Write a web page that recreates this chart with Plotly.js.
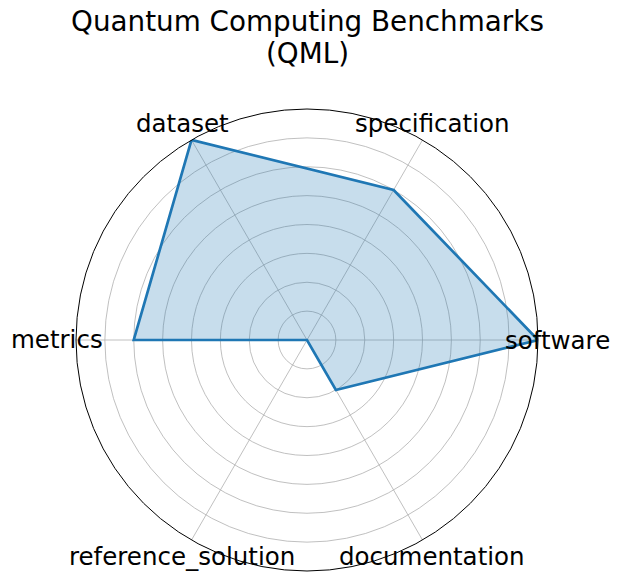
<!DOCTYPE html>
<html><head><meta charset="utf-8">
<script src="https://cdn.plot.ly/plotly-3.0.1.min.js"></script>
<style>html,body{margin:0;padding:0;background:#fff}</style>
</head><body>
<div id="chart" style="width:621px;height:581px"></div>
<script>
const categories = ["software","specification","dataset","metrics","reference_solution","documentation"];
const values = [8, 6, 8, 6, 0, 2];
const rMax = 8;
const titleLines = ["Quantum Computing Benchmarks", "(QML)"];

const W = 621, H = 581;
const cx = 307, cy = 340, R = 231;
const labelR = 250;

const theta = categories.concat([categories[0]]);
const r = values.concat([values[0]]);

const annotations = categories.map((c, i) => {
  const a = i * Math.PI * 2 / categories.length;
  const px = cx + labelR * Math.cos(a);
  const py = cy - labelR * Math.sin(a);
  return {
    text: c, xref: 'paper', yref: 'paper',
    x: px / W, y: 1 - py / H, xanchor: 'center', yanchor: 'middle',
    showarrow: false, font: {family: 'DejaVu Sans', size: 24.5, color: '#000'}
  };
});
const titleY = [22, 53];
titleLines.forEach((t, i) => {
  annotations.push({
    text: t, xref: 'paper', yref: 'paper',
    x: cx / W, y: 1 - titleY[i] / H, xanchor: 'center', yanchor: 'middle',
    showarrow: false, font: {family: 'DejaVu Sans', size: 27.8, color: '#000'}
  });
});

const trace = {
  type: 'scatterpolar', mode: 'lines', r: r, theta: theta,
  fill: 'toself', fillcolor: 'rgba(31,119,180,0.25)',
  line: {color: '#1f77b4', width: 2.7}, hoverinfo: 'skip'
};

const layout = {
  width: W, height: H,
  margin: {l: 0, r: 0, t: 0, b: 0},
  paper_bgcolor: '#fff', plot_bgcolor: '#fff',
  showlegend: false,
  polar: {
    domain: {x: [(cx - R) / W, (cx + R) / W], y: [1 - (cy + R) / H, 1 - (cy - R) / H]},
    bgcolor: '#fff',
    radialaxis: {range: [0, rMax], dtick: 1, tick0: 0, showticklabels: false, ticks: '',
      showline: false, gridcolor: '#b0b0b0', gridwidth: 0.8},
    angularaxis: {type: 'category', categoryarray: categories, rotation: 0, direction: 'counterclockwise',
      showticklabels: false, ticks: '', linecolor: '#000', linewidth: 1,
      gridcolor: '#b0b0b0', gridwidth: 0.8}
  },
  annotations: annotations
};

Plotly.newPlot('chart', [trace], layout, {displayModeBar: false, staticPlot: true});
</script>
</body></html>
